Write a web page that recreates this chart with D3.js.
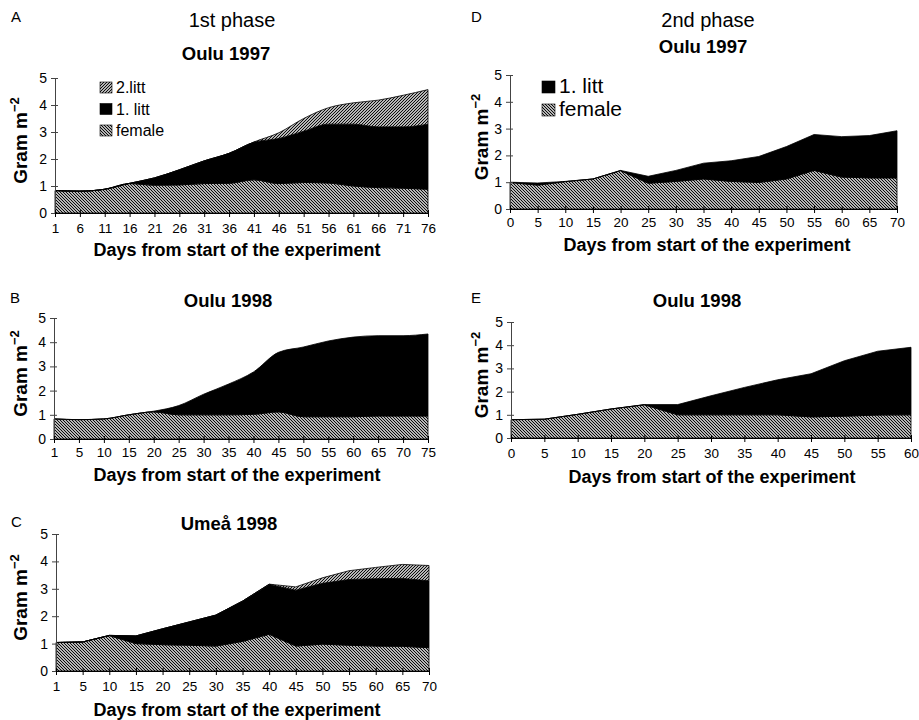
<!DOCTYPE html>
<html><head><meta charset="utf-8">
<script src="https://cdn.jsdelivr.net/npm/d3@7"></script>
<style>body{margin:0;background:#fff}svg{display:block;font-family:"Liberation Sans",Arial,Helvetica,sans-serif}</style>
</head><body><svg id="c" width="919" height="720"></svg>
<script>
// ---------- data ----------
const yTicks = [0, 1, 2, 3, 4, 5];

const daysA = ["1","6","11","16","21","26","31","36","41","46","51","56","61","66","71","76"];
const femaleA = [0.83,0.81,0.88,1.09,1.03,1.04,1.09,1.10,1.23,1.09,1.13,1.11,1.00,0.94,0.92,0.88];
const litt1A  = [0,0,0,0.01,0.27,0.56,0.84,1.11,1.39,1.67,1.90,2.18,2.29,2.25,2.27,2.41];
const litt2A  = [0,0,0,0,0,0,0,0,0.01,0.21,0.47,0.61,0.79,0.99,1.17,1.28];

const daysB = ["1","5","10","15","20","25","30","35","40","45","50","55","60","65","70","75"];
const femaleB = [0.83,0.80,0.83,1.00,1.12,1.00,1.00,1.00,1.02,1.12,0.92,0.92,0.92,0.95,0.95,0.95];
const litt1B  = [0,0,0,0,0.03,0.38,0.85,1.27,1.75,2.46,2.88,3.13,3.29,3.32,3.32,3.39];

const daysC = ["1","5","10","15","20","25","30","35","40","45","50","55","60","65","70"];
const femaleC = [1.04,1.06,1.29,1.00,0.96,0.94,0.91,1.08,1.34,0.91,0.98,0.94,0.91,0.90,0.85];
const litt1C  = [0,0,0.01,0.28,0.58,0.85,1.13,1.47,1.82,2.04,2.22,2.40,2.46,2.48,2.44];
const litt2C  = [0,0,0,0,0,0,0,0,0.01,0.12,0.20,0.32,0.41,0.51,0.56];

const daysD = ["0","5","10","15","20","25","30","35","40","45","50","55","60","65","70"];
const femaleD = [0.99,0.89,1.02,1.12,1.43,0.96,1.03,1.12,1.03,0.99,1.12,1.44,1.19,1.16,1.16];
const litt1D  = [0.01,0.08,0.01,0,0.01,0.26,0.41,0.59,0.77,0.97,1.21,1.34,1.51,1.58,1.76];

const daysE = ["0","5","10","15","20","25","30","35","40","45","50","55","60"];
const femaleE = [0.79,0.81,1.02,1.25,1.43,1.00,1.00,1.00,1.00,0.91,0.94,0.99,1.00];
const litt1E  = [0,0,0,0,0.01,0.44,0.82,1.18,1.51,1.86,2.39,2.75,2.91];

const legendA = ["2.litt", "1. litt", "female"];
const legendD = ["1. litt", "female"];
const xLabel = "Days from start of the experiment";

// ---------- layout ----------
const panels = [
  {letter:"A", phase:"1st phase", title:"Oulu 1997", days:daysA, series:{female:femaleA, litt1:litt1A, litt2:litt2A},
   curve:d3.curveMonotoneX, l:55, r:428, t:78, b:213, letterX:11, letterY:22, phaseX:232, phaseY:27, titleX:226, titleY:60,
   tickBase:233, labelX:237, labelBase:256, yLabX:27, legend:legendA, legX:100, legY:82, legStep:21.5, legSize:12, legFont:16},
  {letter:"B", title:"Oulu 1998", days:daysB, series:{female:femaleB, litt1:litt1B},
   curve:d3.curveMonotoneX, l:54, r:428, t:318, b:439, letterX:10, letterY:303, titleX:228, titleY:307,
   tickBase:457, labelX:237, labelBase:481, yLabX:27},
  {letter:"C", title:"Umeå 1998", days:daysC, series:{female:femaleC, litt1:litt1C, litt2:litt2C},
   curve:d3.curveLinear, l:56, r:429, t:534, b:671, letterX:11, letterY:527, titleX:229, titleY:530,
   tickBase:691, labelX:237, labelBase:716, yLabX:27},
  {letter:"D", phase:"2nd phase", title:"Oulu 1997", days:daysD, series:{female:femaleD, litt1:litt1D},
   curve:d3.curveLinear, l:510, r:897, t:75, b:209, letterX:471, letterY:22, phaseX:708, phaseY:27, titleX:703, titleY:53,
   tickBase:227, labelX:707, labelBase:251, yLabX:488, legend:legendD, legX:542, legY:81, legStep:23, legSize:13, legFont:21},
  {letter:"E", title:"Oulu 1998", days:daysE, series:{female:femaleE, litt1:litt1E},
   curve:d3.curveLinear, l:511, r:911, t:322, b:438, letterX:471, letterY:303, titleX:697, titleY:307,
   tickBase:458, labelX:712, labelBase:483, yLabX:488}
];

const svg = d3.select("#c");
const defs = svg.append("defs");
function hatch(id, d) {
  const p = defs.append("pattern").attr("id", id).attr("patternUnits", "userSpaceOnUse")
    .attr("width", 3).attr("height", 3);
  p.append("rect").attr("width", 3).attr("height", 3).attr("fill", "#fff");
  p.append("path").attr("d", d).attr("stroke", "#000").attr("stroke-width", 1.1).attr("fill", "none");
}
hatch("hF", "M-1,-1L4,4M-1,2L1,4M2,-1L4,1");   // "\\\" female
hatch("h2", "M-1,4L4,-1M-1,1L1,-1M2,4L4,2");   // "///" 2.litt
const fills = {female:"url(#hF)", litt1:"#000", litt2:"url(#h2)"};
const legendKey = {"2.litt":"litt2", "1. litt":"litt1", "female":"female"};

panels.forEach(p => {
  const g = svg.append("g");
  const x = d3.scalePoint().domain(p.days).range([p.l, p.r]);
  const y = d3.scaleLinear().domain([0, 5]).range([p.b, p.t]);
  const keys = Object.keys(p.series);
  const rows = p.days.map((d, i) => {
    const o = {day: d};
    keys.forEach(k => o[k] = p.series[k][i]);
    return o;
  });
  const stacked = d3.stack().keys(keys)(rows);
  const area = d3.area().x(d => x(d.data.day)).y0(d => y(d[0])).y1(d => y(d[1])).curve(p.curve);
  g.selectAll("path.layer").data(stacked).join("path").attr("class", "layer")
    .attr("d", area).attr("fill", s => fills[s.key]).attr("stroke", "#000").attr("stroke-width", 0.8)
    .attr("stroke-linejoin", "round");

  // axes
  const ya = g.append("g").attr("transform", `translate(${p.l},0)`)
    .call(d3.axisLeft(y).tickValues(yTicks).tickFormat(d3.format("d")).tickSize(4).tickSizeOuter(0));
  ya.select(".domain").attr("stroke", "#444");
  ya.selectAll(".tick line").attr("x1", 3).attr("stroke", "#444");
  ya.selectAll(".tick text").attr("x", -8).attr("font-size", 14).attr("font-family", null).attr("fill", "#000");
  const xa = g.append("g").attr("transform", `translate(0,${p.b})`)
    .call(d3.axisBottom(x).tickSize(4).tickSizeOuter(0));
  xa.select(".domain").attr("stroke", "#000");
  xa.selectAll(".tick line").attr("y1", -3).attr("stroke", "#000");
  xa.selectAll(".tick text").attr("y", p.tickBase - p.b).attr("dy", null)
    .attr("font-size", 13.5).attr("font-family", null).attr("fill", "#000");

  // texts
  g.append("text").attr("x", p.letterX).attr("y", p.letterY).attr("font-size", 15).text(p.letter);
  if (p.phase) g.append("text").attr("x", p.phaseX).attr("y", p.phaseY).attr("text-anchor", "middle")
    .attr("font-size", 20).text(p.phase);
  g.append("text").attr("x", p.titleX).attr("y", p.titleY).attr("text-anchor", "middle")
    .attr("font-size", 18.5).attr("font-weight", "bold").text(p.title);
  g.append("text").attr("x", p.labelX).attr("y", p.labelBase).attr("text-anchor", "middle")
    .attr("font-size", 18).attr("font-weight", "bold").text(xLabel);
  const yl = g.append("text").attr("transform", `translate(${p.yLabX},${(p.t + p.b) / 2 - 5}) rotate(-90)`)
    .attr("text-anchor", "middle").attr("font-size", 19).attr("font-weight", "bold");
  yl.append("tspan").text("Gram m");
  yl.append("tspan").attr("dy", -8).attr("font-size", 13).text("−2");

  // legend
  if (p.legend) {
    p.legend.forEach((lab, i) => {
      const yy = p.legY + i * p.legStep;
      g.append("rect").attr("x", p.legX).attr("y", yy).attr("width", p.legSize).attr("height", p.legSize - 1)
        .attr("fill", fills[legendKey[lab]]).attr("stroke", "#000").attr("stroke-width", 0.6);
      g.append("text").attr("x", p.legX + p.legSize + 4).attr("y", yy + p.legSize - 1)
        .attr("font-size", p.legFont).text(lab);
    });
  }
});
</script></body></html>
